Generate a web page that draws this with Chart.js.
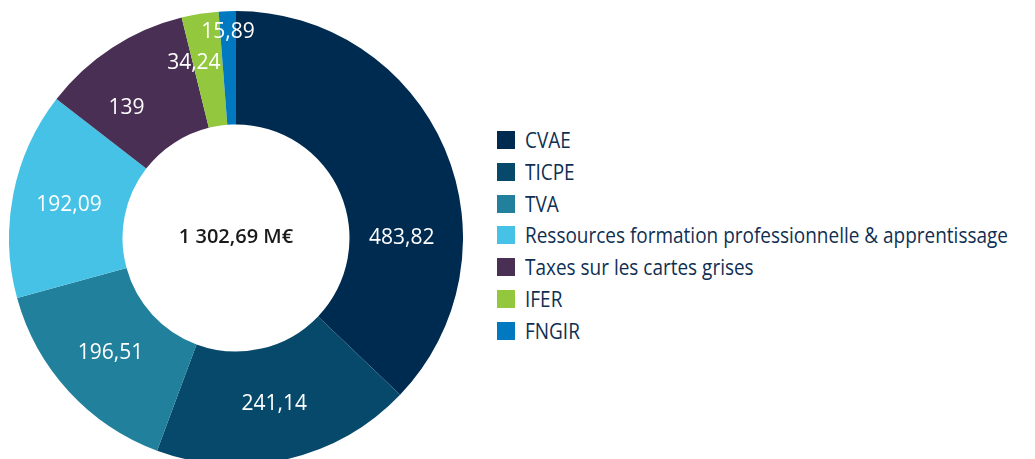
<!DOCTYPE html>
<html>
<head>
<meta charset="utf-8">
<script src="https://cdn.jsdelivr.net/npm/chart.js@4"></script>
<style>
  html, body { margin: 0; padding: 0; background: #fff; overflow: hidden; }
  body { width: 1035px; height: 459px; position: relative; font-family: 'Open Sans', sans-serif; }
  #chartBox { position: absolute; left: 9px; top: 11px; width: 454px; height: 454px; }
  #legend { position: absolute; left: 497px; top: 131px; }
  .item { position: relative; height: 31.8px; }
  .swatch { position: absolute; left: 0; top: 0; width: 18px; height: 18px; }
  .label { position: absolute; left: 28px; top: -5px; font-size: 21px; color: #0f2f52; white-space: nowrap; transform-origin: 0 50%; }
</style>
</head>
<body>
<div id="chartBox"><canvas id="donut"></canvas></div>
<div id="legend"></div>
<script>
// Data
const categories = ['CVAE', 'TICPE', 'TVA', 'Ressources formation professionnelle & apprentissage', 'Taxes sur les cartes grises', 'IFER', 'FNGIR']
const values = [483.82, 241.14, 196.51, 192.09, 139, 34.24, 15.89]
const valueLabels = ['483,82', '241,14', '196,51', '192,09', '139', '34,24', '15,89']
const totalLabel = '1 302,69 M€'

const colors = ['#002b50', '#07496b', '#21809b', '#45c2e5', '#4a2f55', '#93c83e', '#0079c0']

// label placement tweaks (degrees clockwise from top, t = position across the ring)
const labelTweaks = {
  0: { angle: 90, t: 0.46 },
  4: { angle: 320, t: 0.5 },
  5: { angle: 346.5, t: 0.59 },
  6: { t: 0.82 }
}

const valueLabelsPlugin = {
  id: 'valueLabels',
  afterDatasetsDraw(chart) {
    const ctx = chart.ctx
    const meta = chart.getDatasetMeta(0)
    ctx.save()
    ctx.fillStyle = '#ffffff'
    ctx.font = '500 21px "Open Sans"'
    ctx.textAlign = 'center'
    ctx.textBaseline = 'middle'
    meta.data.forEach((arc, i) => {
      const p = arc.getProps(['x', 'y', 'startAngle', 'endAngle', 'innerRadius', 'outerRadius'], true)
      const tweak = labelTweaks[i] || {}
      let angle = (p.startAngle + p.endAngle) / 2
      if (tweak.angle !== undefined) angle = (tweak.angle - 90) * Math.PI / 180
      const t = tweak.t !== undefined ? tweak.t : 0.5
      const r = p.innerRadius + (p.outerRadius - p.innerRadius) * t
      ctx.fillText(valueLabels[i], p.x + Math.cos(angle) * r, p.y + Math.sin(angle) * r)
    })
    // total in the hole
    const c = meta.data[0]
    ctx.fillStyle = '#1a1a1a'
    ctx.font = '600 20px "Open Sans"'
    ctx.fillText(totalLabel, c.x, c.y - 1)
    ctx.restore()
  }
}

new Chart(document.getElementById('donut').getContext('2d'), {
  type: 'doughnut',
  data: {
    labels: categories,
    datasets: [
      {
        data: values,
        backgroundColor: colors,
        borderWidth: 0
      }
    ]
  },
  options: {
    responsive: true,
    maintainAspectRatio: false,
    animation: false,
    cutout: '50%',
    layout: { padding: 0 },
    plugins: {
      legend: { display: false },
      tooltip: { enabled: false }
    }
  },
  plugins: [valueLabelsPlugin]
})

// HTML legend
const legendEl = document.getElementById('legend')
categories.forEach((name, i) => {
  const item = document.createElement('div')
  item.className = 'item'
  item.innerHTML = `<div class="swatch" style="background:${colors[i]}"></div><div class="label">${name}</div>`
  legendEl.appendChild(item)
})

// squeeze the legend text to the width of the original (condensed face)
const longest = legendEl.querySelectorAll('.label')[3]
const scale = 483 / longest.getBoundingClientRect().width
legendEl.querySelectorAll('.label').forEach((el) => {
  el.style.transform = `scaleX(${Math.min(1, scale)})`
})
</script>
</body>
</html>
